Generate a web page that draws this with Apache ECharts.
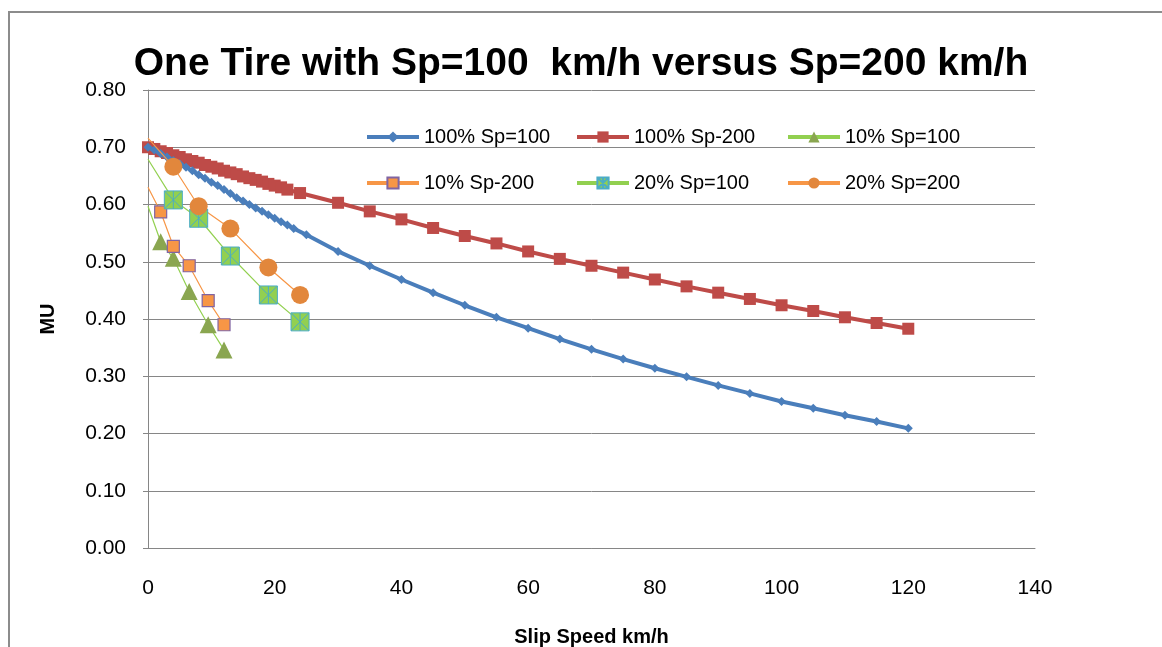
<!DOCTYPE html>
<html>
<head>
<meta charset="utf-8">
<script src="https://cdn.jsdelivr.net/npm/echarts@6/dist/echarts.min.js"></script>
<style>
  html, body { margin: 0; padding: 0; background: #fff; }
  #tireChart { width: 1162px; height: 647px; }
</style>
</head>
<body>
<div id="tireChart"></div>
<script>
// slip speed (km/h) and MU
const fullSp100X = [0, 1, 2, 3, 4, 5, 6, 7, 8, 9, 10, 11, 12, 13, 14, 15, 16, 17, 18, 19, 20, 21, 22, 23, 25,
  30, 35, 40, 45, 50, 55, 60, 65, 70, 75, 80, 85, 90, 95, 100, 105, 110, 115, 120];
const fullSp100Y = [0.700, 0.695, 0.689, 0.683, 0.677, 0.671, 0.665, 0.659, 0.652, 0.646, 0.639, 0.633, 0.626,
  0.619, 0.612, 0.606, 0.600, 0.594, 0.588, 0.582, 0.576, 0.570, 0.564, 0.558, 0.547,
  0.518, 0.493, 0.469, 0.446, 0.424, 0.403, 0.384, 0.365, 0.347, 0.330, 0.314, 0.299, 0.284, 0.270,
  0.256, 0.244, 0.232, 0.221, 0.209];

const fullSp200X = [0, 1, 2, 3, 4, 5, 6, 7, 8, 9, 10, 11, 12, 13, 14, 15, 16, 17, 18, 19, 20, 21, 22, 24,
  30, 35, 40, 45, 50, 55, 60, 65, 70, 75, 80, 85, 90, 95, 100, 105, 110, 115, 120];
const fullSp200Y = [0.700, 0.697, 0.693, 0.690, 0.686, 0.683, 0.679, 0.676, 0.673, 0.669, 0.666, 0.663, 0.659,
  0.656, 0.653, 0.649, 0.646, 0.643, 0.640, 0.636, 0.633, 0.630, 0.626, 0.620,
  0.603, 0.588, 0.574, 0.559, 0.545, 0.532, 0.518, 0.505, 0.493, 0.481, 0.469, 0.457, 0.446, 0.435,
  0.424, 0.414, 0.403, 0.393, 0.383];

// first point (x = 0) has no marker in the original
const tenX = [0, 2, 4, 6.5, 9.5, 12];
const tenSp100Y = [0.597, 0.535, 0.506, 0.448, 0.390, 0.346];
const tenSp200Y = [0.630, 0.587, 0.527, 0.493, 0.432, 0.390];

const twentyX = [0, 4, 8, 13, 19, 24];
const twentySp100Y = [0.679, 0.608, 0.576, 0.510, 0.442, 0.395];
const twentySp200Y = [0.716, 0.666, 0.597, 0.558, 0.490, 0.442];

const seriesNames = ['100% Sp=100', '100% Sp-200', '10% Sp=100', '10% Sp-200', '20% Sp=100', '20% Sp=200'];

const FONT = '"Liberation Sans", Arial, sans-serif';
const starSymbol = 'path://M0,0L10,0L10,10L0,10Z M0,0L10,10 M10,0L0,10 M5,0L5,10';

function pairs(xs, ys) {
  return xs.map((x, i) => [x, ys[i]]);
}
function pairsNoFirst(xs, ys) {
  return xs.map((x, i) => (i === 0 ? { value: [x, ys[i]], symbol: 'none' } : [x, ys[i]]));
}

const legendText = { fontFamily: FONT, fontSize: 20, color: '#000', lineHeight: 20 };

const chart = echarts.init(document.getElementById('tireChart'));

chart.setOption({
  backgroundColor: '#ffffff',
  animation: false,
  title: {
    text: 'One Tire with Sp=100  km/h versus Sp=200 km/h',
    left: 'center',
    top: 40,
    textStyle: { fontFamily: FONT, fontSize: 39, fontWeight: 'bold', color: '#000' }
  },
  graphic: [
    {
      type: 'rect',
      shape: { x: 9, y: 12, width: 1200, height: 700 },
      style: { fill: 'none', stroke: '#8c8c8c', lineWidth: 2 },
      silent: true
    }
  ],
  legend: [
    {
      data: [seriesNames[0], seriesNames[3]],
      orient: 'vertical', left: 360, top: 122, itemGap: 26,
      itemWidth: 52, itemHeight: 14,
      lineStyle: { width: 4 },
      textStyle: legendText
    },
    {
      data: [seriesNames[1], seriesNames[4]],
      orient: 'vertical', left: 570, top: 122, itemGap: 26,
      itemWidth: 52, itemHeight: 14,
      lineStyle: { width: 4 },
      textStyle: legendText
    },
    {
      data: [seriesNames[2], seriesNames[5]],
      orient: 'vertical', left: 781, top: 122, itemGap: 26,
      itemWidth: 52, itemHeight: 14,
      lineStyle: { width: 4 },
      textStyle: legendText
    }
  ],
  grid: { left: 148, right: 127, top: 90, bottom: 99, outerBoundsMode: 'none' },
  xAxis: {
    type: 'value',
    min: 0, max: 140, interval: 20,
    name: 'Slip Speed km/h',
    nameLocation: 'middle',
    nameGap: 79,
    nameTextStyle: { fontFamily: FONT, fontSize: 20, fontWeight: 'bold', color: '#000' },
    axisLine: { lineStyle: { color: '#868686', width: 1 } },
    axisTick: { show: false },
    splitLine: { show: false },
    axisLabel: { fontFamily: FONT, fontSize: 21, color: '#000', margin: 30 }
  },
  yAxis: {
    type: 'value',
    min: 0, max: 0.8, interval: 0.1,
    name: 'MU',
    nameLocation: 'middle',
    nameGap: 90,
    nameTextStyle: { fontFamily: FONT, fontSize: 20, fontWeight: 'bold', color: '#000' },
    axisLine: { show: true, lineStyle: { color: '#868686', width: 1 } },
    axisTick: { show: true, length: 5, lineStyle: { color: '#868686' } },
    splitLine: { lineStyle: { color: '#868686', width: 1 } },
    axisLabel: {
      fontFamily: FONT, fontSize: 21, color: '#000', margin: 22,
      formatter: (v) => v.toFixed(2)
    }
  },
  series: [
    {
      name: seriesNames[0], type: 'line', z: 3,
      data: pairs(fullSp100X, fullSp100Y),
      symbol: 'diamond', symbolSize: 9,
      lineStyle: { color: '#4a7ebb', width: 4 },
      itemStyle: { color: '#4a7ebb' }
    },
    {
      name: seriesNames[1], type: 'line', z: 2,
      data: pairs(fullSp200X, fullSp200Y),
      symbol: 'rect', symbolSize: 12,
      lineStyle: { color: '#be4b48', width: 4 },
      itemStyle: { color: '#be4b48' }
    },
    {
      name: seriesNames[2], type: 'line', z: 4,
      data: pairsNoFirst(tenX, tenSp100Y),
      symbol: 'triangle', symbolSize: 17,
      lineStyle: { color: '#92d050', width: 1.2 },
      itemStyle: { color: '#8aa650' }
    },
    {
      name: seriesNames[3], type: 'line', z: 4,
      data: pairsNoFirst(tenX, tenSp200Y),
      symbol: 'rect', symbolSize: 12,
      lineStyle: { color: '#f79646', width: 1.2 },
      itemStyle: { color: '#f79646', borderColor: '#8064a2', borderWidth: 1.2 }
    },
    {
      name: seriesNames[4], type: 'line', z: 4,
      data: pairsNoFirst(twentyX, twentySp100Y),
      symbol: starSymbol, symbolSize: 18,
      lineStyle: { color: '#92d050', width: 1.2 },
      itemStyle: { color: '#92d050', borderColor: '#4bacc6', borderWidth: 1 }
    },
    {
      name: seriesNames[5], type: 'line', z: 4,
      data: pairsNoFirst(twentyX, twentySp200Y),
      symbol: 'circle', symbolSize: 18,
      lineStyle: { color: '#f79646', width: 1.2 },
      itemStyle: { color: '#e2873c' }
    }
  ]
});
</script>
</body>
</html>
